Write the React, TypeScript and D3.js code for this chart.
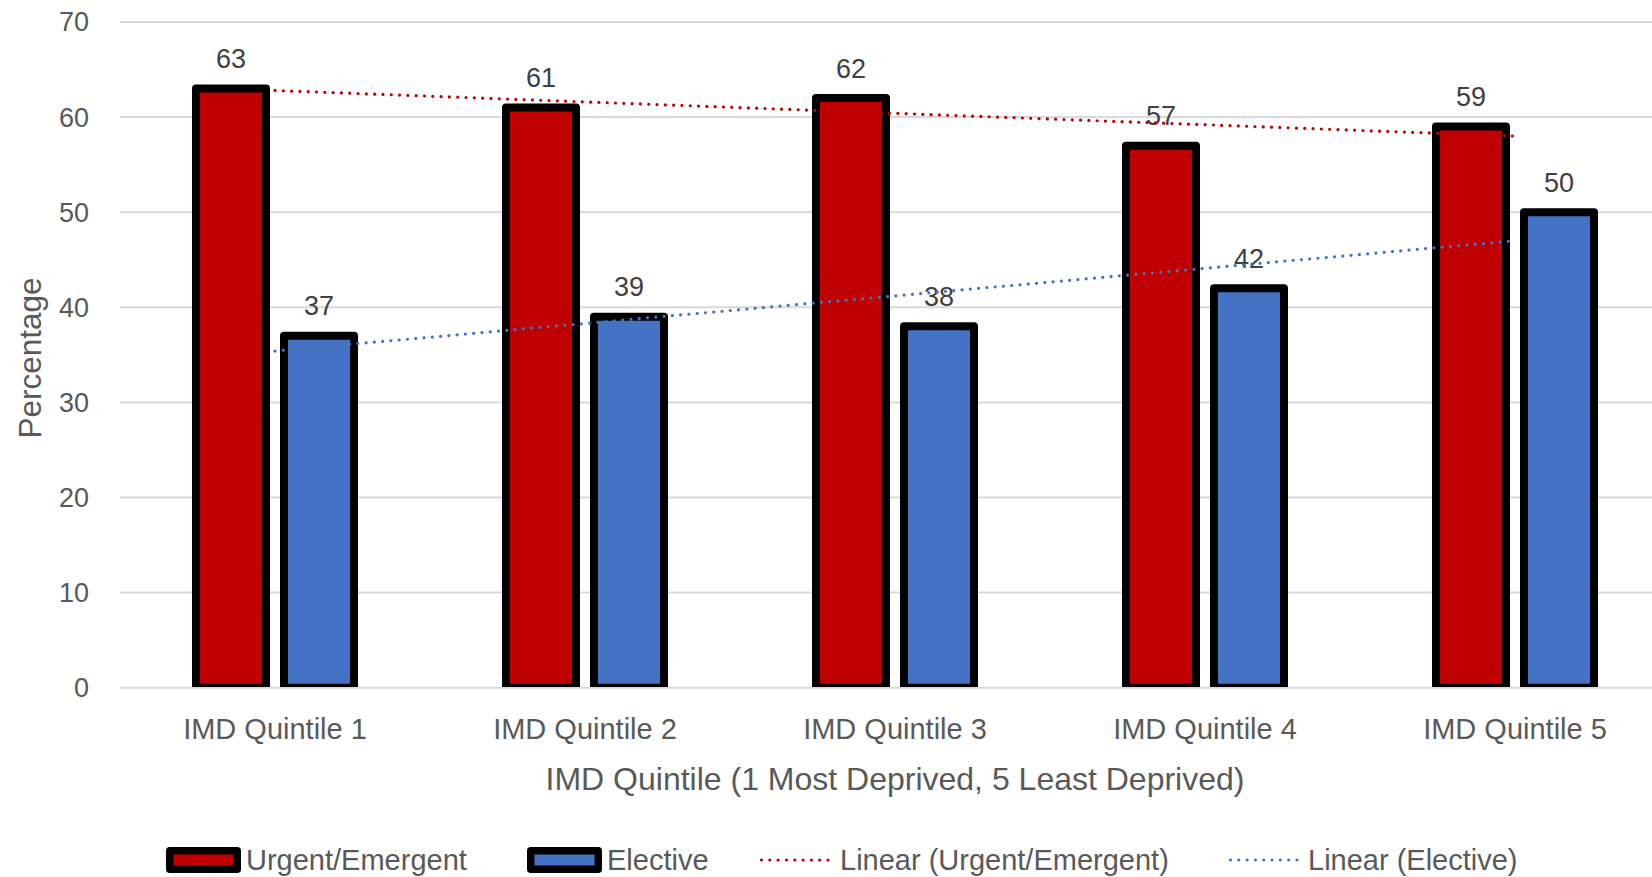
import React from "react";
import * as d3 from "d3";

const categories = ["IMD Quintile 1", "IMD Quintile 2", "IMD Quintile 3", "IMD Quintile 4", "IMD Quintile 5"];
const urgentValues = [63, 61, 62, 57, 59];
const electiveValues = [37, 39, 38, 42, 50];
const seriesNames = ["Urgent/Emergent", "Elective"];
const yTicks = [0, 10, 20, 30, 40, 50, 60, 70];
const legendLabels = ["Urgent/Emergent", "Elective", "Linear (Urgent/Emergent)", "Linear (Elective)"];
const xTitle = "IMD Quintile (1 Most Deprived, 5 Least Deprived)";
const yTitle = "Percentage";

const W = 1652;
const H = 877;
const FONT = "'Liberation Sans', Arial, sans-serif";
const RED = "#C00000";
const BLUE = "#4472C4";
const TEXT = "#595959";
const LABEL = "#404040";

function linreg(vals: number[]) {
  const xs = vals.map((_, i) => i + 1);
  const mx = d3.mean(xs)!;
  const my = d3.mean(vals)!;
  const num = d3.sum(xs.map((x, i) => (x - mx) * (vals[i] - my)));
  const den = d3.sum(xs.map((x) => (x - mx) * (x - mx)));
  const b = num / den;
  const a = my - b * mx;
  return (x: number) => a + b * x;
}

export default function App() {
  const x0 = d3.scaleBand<string>().domain(categories).range([120, 1670]).paddingInner(0.4903).paddingOuter(0.24515);
  const x1 = d3.scaleBand<string>().domain(seriesNames).range([0, x0.bandwidth()]).paddingInner(0.2045).paddingOuter(0);
  const y = d3.scaleLinear().domain([0, 70]).range([687.7, 22]);

  const series = [
    { name: seriesNames[0], values: urgentValues, color: RED },
    { name: seriesNames[1], values: electiveValues, color: BLUE },
  ];

  const center = (c: string) => x0(c)! + x0.bandwidth() / 2;
  const line = d3
    .line<number>()
    .x((_, i) => center(categories[i]))
    .y((v) => y(v));

  const trendU = linreg(urgentValues);
  const trendE = linreg(electiveValues);
  const trendUPts = categories.map((_, i) => trendU(i + 1));
  const trendEPts = categories.map((_, i) => trendE(i + 1));

  const legendX = [166, 527, 760, 1229];
  const legendTextX = [246, 607, 840, 1308];

  return (
    <svg width={W} height={H} style={{ position: "absolute", left: 0, top: 0, background: "#fff" }} fontFamily={FONT}>
      <defs>
        <clipPath id="plotClip">
          <rect x={0} y={0} width={W} height={y(0) - 0.7} />
        </clipPath>
      </defs>
      <rect x={0} y={0} width={W} height={H} fill="#fff" />
      {yTicks.map((t) => (
        <g key={t}>
          <line x1={120} x2={W} y1={y(t)} y2={y(t)} stroke="#d9d9d9" strokeWidth={2} />
          <text x={89} y={y(t)} dy="0.35em" textAnchor="end" fontSize={27} fill={TEXT}>
            {t}
          </text>
        </g>
      ))}
      <g clipPath="url(#plotClip)">
        {series.map((s) =>
          categories.map((c, i) => {
            const bx = x0(c)! + x1(s.name)!;
            return (
              <rect
                key={s.name + c}
                x={bx}
                y={y(s.values[i])}
                width={x1.bandwidth()}
                height={y(0) - y(s.values[i])}
                fill={s.color}
                stroke="#000"
                strokeWidth={8}
                strokeLinejoin="round"
              />
            );
          })
        )}
      </g>
      {series.map((s) =>
        categories.map((c, i) => {
          const bx = x0(c)! + x1(s.name)!;
          return (
            <text
              key={"l" + s.name + c}
              x={bx + x1.bandwidth() / 2}
              y={y(s.values[i]) - 20.5}
              textAnchor="middle"
              fontSize={27}
              fill={LABEL}
            >
              {s.values[i]}
            </text>
          );
        })
      )}
      <path d={line(trendUPts)!} fill="none" stroke={RED} strokeWidth={3.2} strokeDasharray="0.01 8.3" strokeLinecap="round" />
      <path d={line(trendEPts)!} fill="none" stroke={BLUE} strokeWidth={3.2} strokeDasharray="0.01 8.3" strokeLinecap="round" />
      {categories.map((c) => (
        <text key={c} x={center(c)} y={739} textAnchor="middle" fontSize={29} fill={TEXT}>
          {c}
        </text>
      ))}
      <text x={(120 + 1670) / 2} y={790} textAnchor="middle" fontSize={32} fill={TEXT}>
        {xTitle}
      </text>
      <text transform={`translate(41, 358) rotate(-90)`} textAnchor="middle" fontSize={31.5} fill={TEXT}>
        {yTitle}
      </text>
      {legendLabels.map((lab, i) => (
        <g key={lab}>
          {i < 2 ? (
            <rect
              x={legendX[i] + 3.75}
              y={850.75}
              width={67.5}
              height={18.5}
              fill={i === 0 ? RED : BLUE}
              stroke="#000"
              strokeWidth={7.5}
              strokeLinejoin="round"
            />
          ) : (
            <line
              x1={legendX[i] + 1.5}
              x2={legendX[i] + 73}
              y1={860}
              y2={860}
              stroke={i === 2 ? RED : BLUE}
              strokeWidth={3.2}
              strokeDasharray="0.01 8.3"
              strokeLinecap="round"
            />
          )}
          <text x={legendTextX[i]} y={869.5} fontSize={29} fill={TEXT}>
            {lab}
          </text>
        </g>
      ))}
    </svg>
  );
}
